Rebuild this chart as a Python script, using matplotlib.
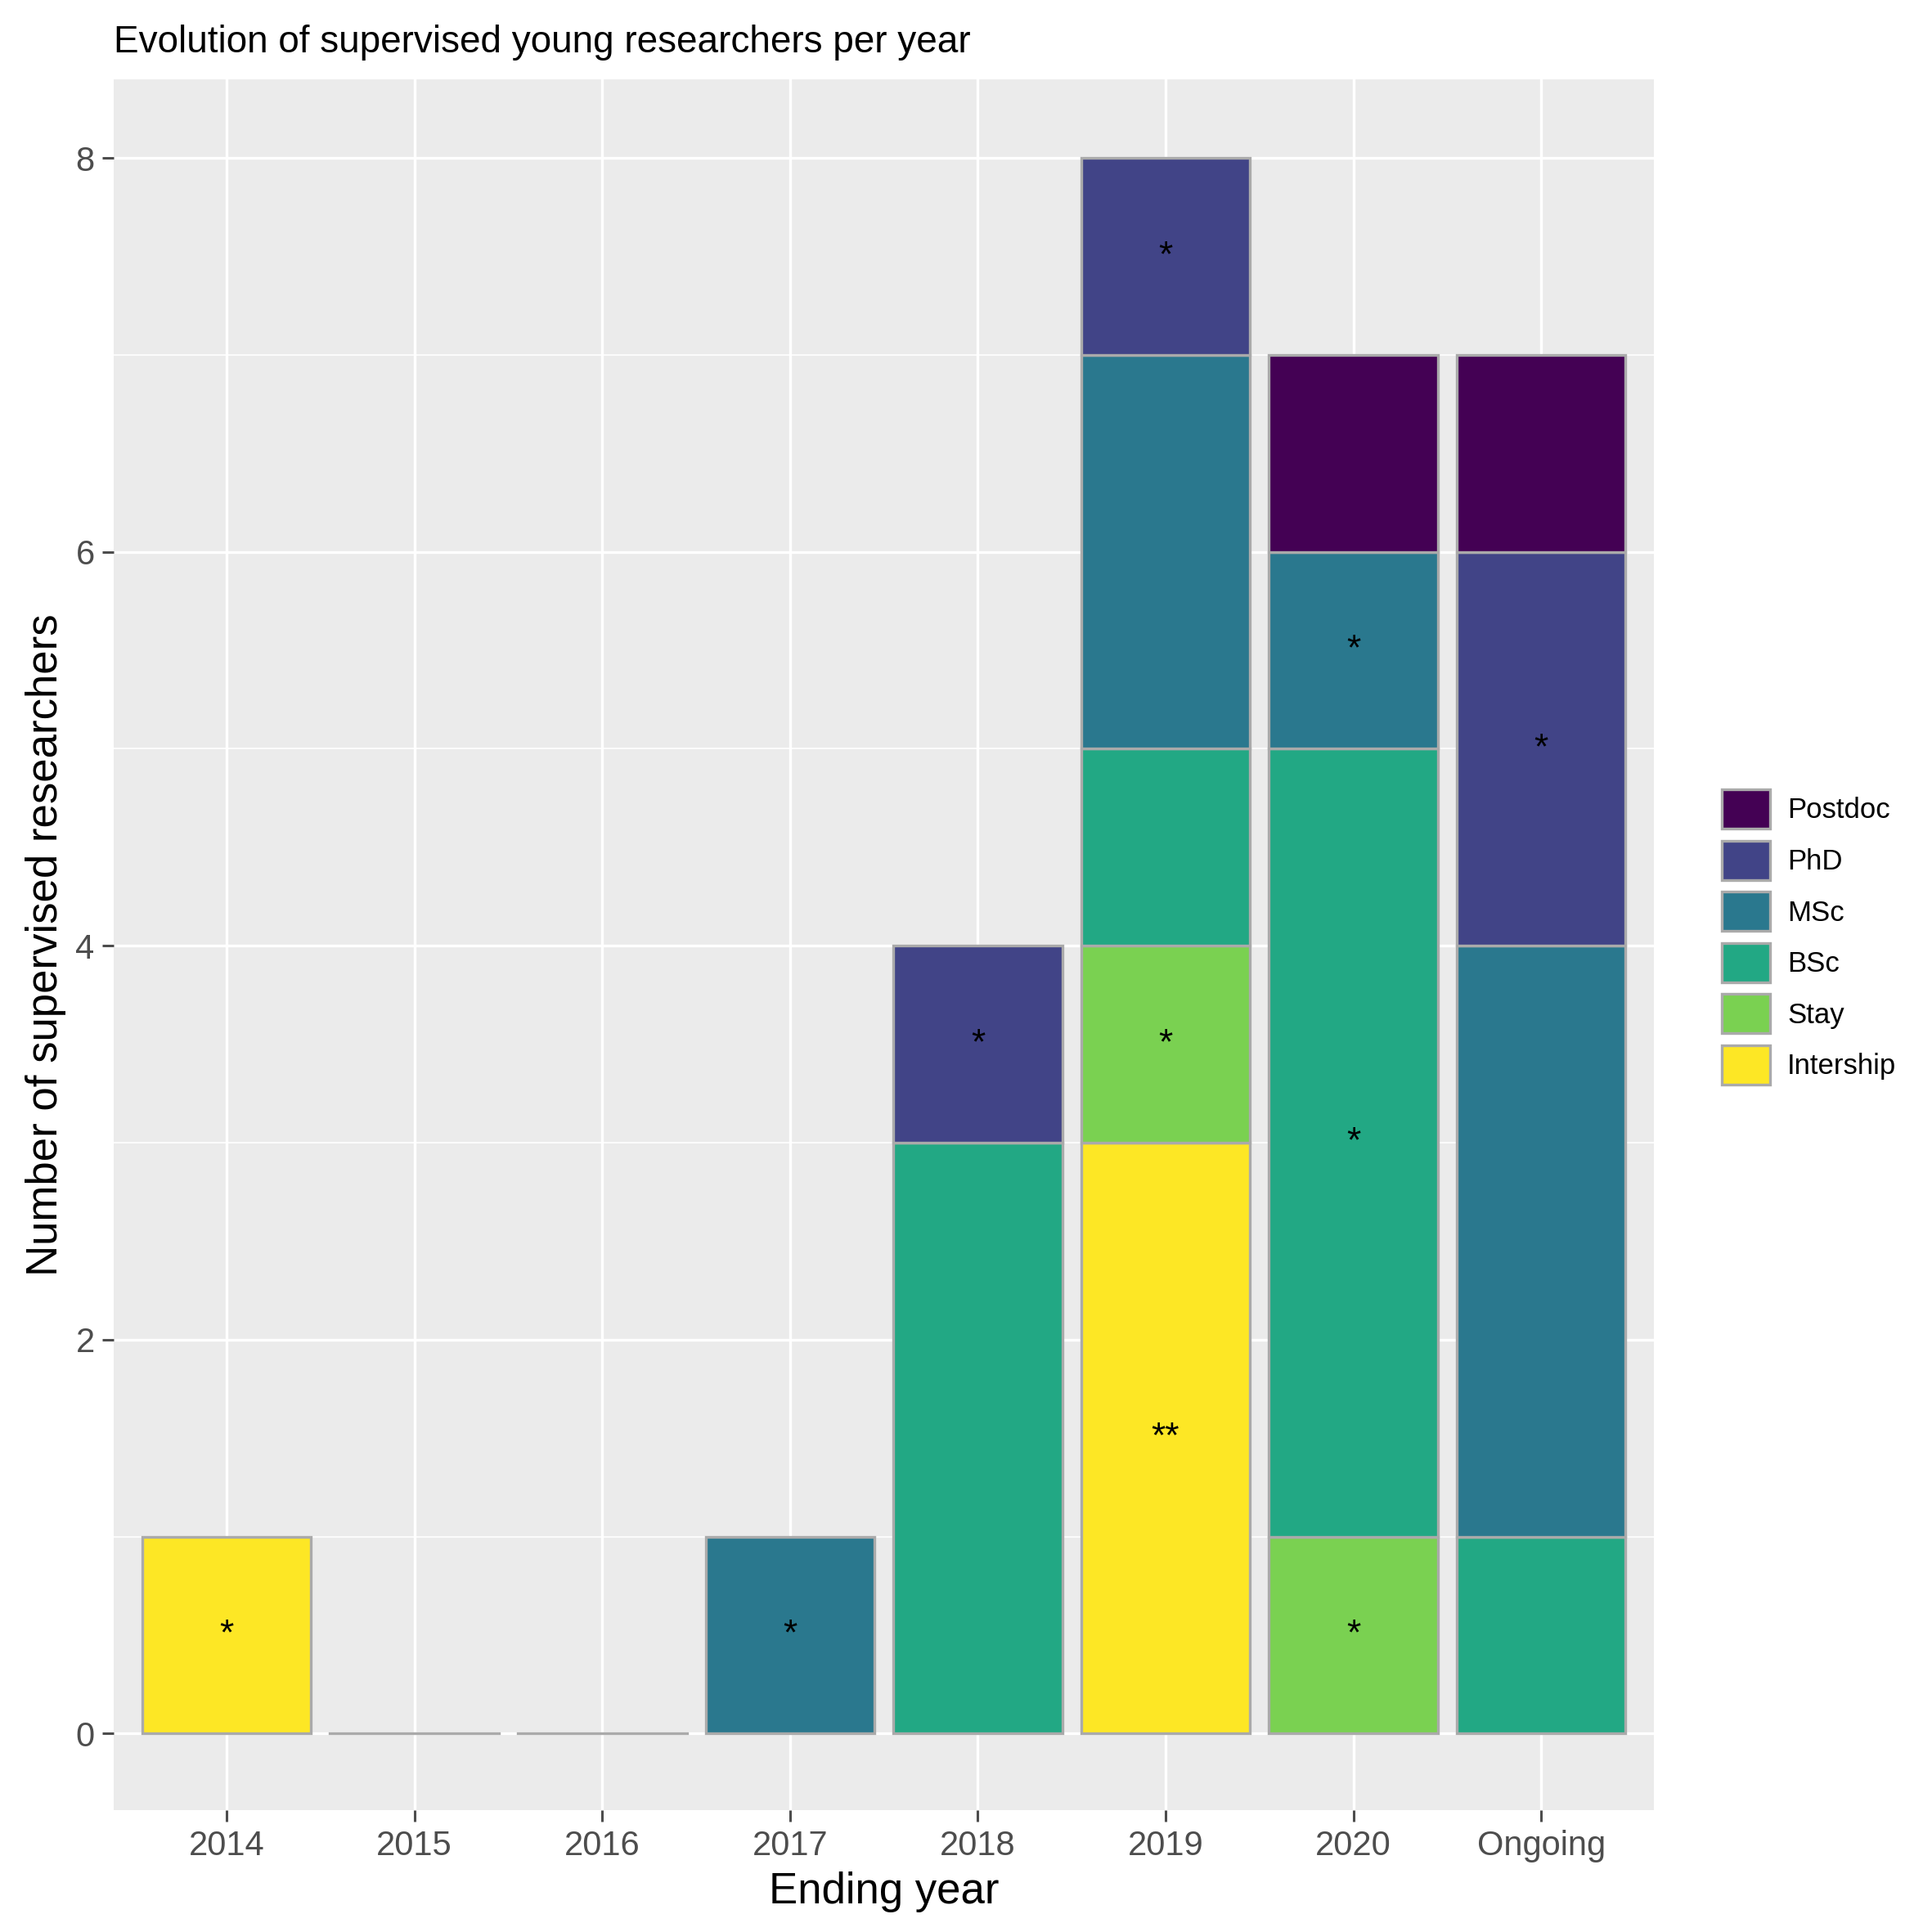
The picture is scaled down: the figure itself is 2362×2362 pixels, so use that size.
import matplotlib
matplotlib.use("Agg")
import matplotlib.pyplot as plt
from matplotlib.patches import Patch

plt.rcParams['font.family'] = ['Liberation Sans', 'DejaVu Sans']

years = ["2014", "2015", "2016", "2017", "2018", "2019", "2020", "Ongoing"]
levels = ["Intership", "Stay", "BSc", "MSc", "PhD", "Postdoc"]
colors = {"Postdoc": "#440154", "PhD": "#414487", "MSc": "#2A788E",
          "BSc": "#22A884", "Stay": "#7AD151", "Intership": "#FDE725"}
counts = {
    "Intership": [1, 0, 0, 0, 0, 3, 0, 0],
    "Stay":      [0, 0, 0, 0, 0, 1, 1, 0],
    "BSc":       [0, 0, 0, 0, 3, 1, 4, 1],
    "MSc":       [0, 0, 0, 1, 0, 2, 1, 3],
    "PhD":       [0, 0, 0, 0, 1, 1, 0, 2],
    "Postdoc":   [0, 0, 0, 0, 0, 0, 1, 1],
}
stars = {
    "Intership": ["*", "", "", "", "", "**", "", ""],
    "Stay":      ["", "", "", "", "", "*", "*", ""],
    "BSc":       ["", "", "", "", "", "", "*", ""],
    "MSc":       ["", "", "", "*", "", "", "*", ""],
    "PhD":       ["", "", "", "", "*", "*", "", "*"],
    "Postdoc":   ["", "", "", "", "", "", "", ""],
}

fig = plt.figure(figsize=(11.81, 11.81), dpi=200)
ax = fig.add_axes([0.059, 0.063, 0.797, 0.896])
ax.set_facecolor("#EBEBEB")
for s in ax.spines.values():
    s.set_visible(False)

x = list(range(1, len(years) + 1))
bottom = [0] * len(years)
for lv in levels:
    h = counts[lv]
    for i in range(len(years)):
        if h[i] > 0:
            ax.bar(x[i], h[i], bottom=bottom[i], width=0.9, color=colors[lv],
                   edgecolor="#AAAAAA", linewidth=1.2, zorder=3)
            if stars[lv][i]:
                ax.text(x[i], bottom[i] + h[i] / 2, stars[lv][i], ha="center",
                        va="center", fontsize=16, zorder=4)
    bottom = [b + v for b, v in zip(bottom, h)]
for i in range(len(years)):
    if bottom[i] == 0:
        ax.plot([x[i] - 0.45, x[i] + 0.45], [0, 0], color="#AAAAAA", lw=1.2, zorder=3)

ax.set_xlim(0.4, 8.6)
ax.set_ylim(-0.39, 8.4)
ax.set_xticks(x)
ax.set_xticklabels(years)
ax.set_yticks([0, 2, 4, 6, 8])
ax.set_yticks([1, 3, 5, 7], minor=True)
ax.grid(True, which="major", color="white", lw=1.2, zorder=0)
ax.grid(True, which="minor", axis="y", color="white", lw=0.6, zorder=0)
ax.set_axisbelow(True)
ax.tick_params(axis="both", which="major", labelsize=15, colors="#4D4D4D",
               length=5, width=1.1, labelcolor="#4D4D4D")
ax.tick_params(axis="y", which="minor", length=0)
ax.set_xlabel("Ending year", fontsize=19)
ax.set_ylabel("Number of supervised researchers", fontsize=19)
ax.set_title("Evolution of supervised young researchers per year", fontsize=16.5,
             loc="left", pad=12)

handles = [Patch(facecolor=colors[lv], edgecolor="#AAAAAA", linewidth=1.2, label=lv)
           for lv in levels[::-1]]
fig.legend(handles=handles, loc="center left", bbox_to_anchor=(0.878, 0.515),
           frameon=False, fontsize=12.5, handlelength=1.7, handleheight=1.75,
           labelspacing=0.42, handletextpad=0.6)

fig.savefig("out.png", dpi=200)
